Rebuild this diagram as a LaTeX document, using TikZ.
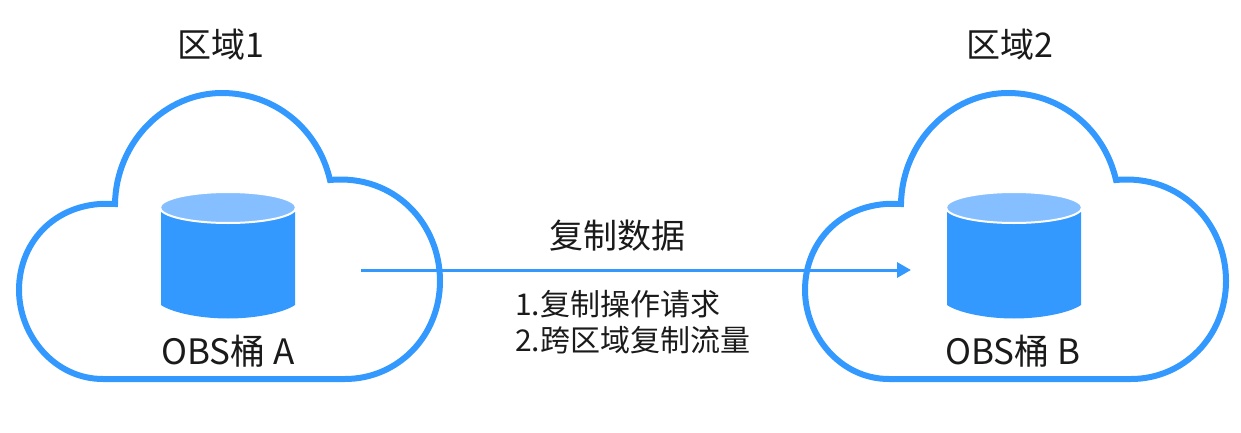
\documentclass[tikz,border=0pt]{standalone}
\usepackage{fontspec}
\setmainfont{Noto Sans CJK SC}
\usetikzlibrary{arrows.meta}
\definecolor{cblue}{HTML}{3399FF}
\definecolor{ctop}{HTML}{85BFFF}
\definecolor{ctext}{HTML}{1A1A1A}
\tikzset{
  cloudline/.style={draw=cblue,line width=6pt,line join=miter},
  lbl/.style={text=ctext,inner sep=0pt,font=\fontsize{35}{40}\selectfont},
  lblbig/.style={text=ctext,inner sep=0pt,font=\fontsize{34}{40}\selectfont},
  small/.style={text=ctext,inner sep=0pt,align=left,font=\fontsize{30}{36}\selectfont},
  flow/.style={draw=cblue,line width=3pt,-{Triangle[length=14pt,width=15pt,fill=cblue]}},
  pics/regioncloud/.style={code={
    \draw[cloudline]
      (115,204) .. controls (116,142) and (165,93) .. (222,93)
      .. controls (274,93) and (318,128) .. (330,180)
      .. controls (395,174) and (440,224) .. (440,281)
      .. controls (440,336) and (398,379) .. (345,379)
      -- (103,379)
      .. controls (54,379) and (19,335) .. (19,290)
      .. controls (19,240) and (58,200) .. (115,204) -- cycle;
    \fill[cblue] (161,212) -- (295,212) -- (295,305)
      .. controls (285,312) and (258,318.5) .. (228,318.5)
      .. controls (198,318.5) and (171,312) .. (161,305) -- cycle;
    \draw[white,line width=2pt,fill=ctop] (228,207.5) ellipse [x radius=68,y radius=15.5];
  }}
}
\begin{document}
\begin{tikzpicture}[x=1pt,y=-1pt]
\useasboundingbox (0,0) rectangle (1241,433);
\pic at (0,0) {regioncloud};
\pic at (786,0) {regioncloud};
\node[lblbig] (r1) at (221,45) {区域1};
\node[lblbig] (r2) at (1010,45) {区域2};
\node[lbl] (a) at (228,351) {OBS桶 A};
\node[lbl] (b) at (1013,351) {OBS桶 B};
\node[lblbig] (c) at (617,236) {复制数据};
\node[small,anchor=west] (d1) at (515,304) {1.复制操作请求};
\node[small,anchor=west] (d2) at (515,340) {2.跨区域复制流量};
\coordinate (src) at (361,270);
\coordinate (dst) at (911,270);
\draw[flow] (src) -- (dst);
\end{tikzpicture}
\end{document}
